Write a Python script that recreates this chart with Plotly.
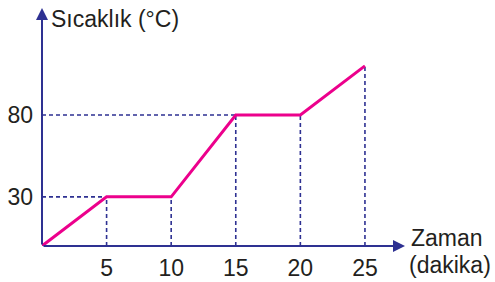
import plotly.graph_objects as go

# Data
time_min = [0, 5, 10, 15, 20, 25]
temp_c = [0, 30, 30, 80, 80, 110]
x_tick_vals = [5, 10, 15, 20, 25]
x_tick_text = ["5", "10", "15", "20", "25"]
y_tick_vals = [30, 80]
y_tick_text = ["30", "80"]

AXIS_COLOR = "#2e3192"
LINE_COLOR = "#ec008c"
TEXT_COLOR = "#231f20"
FONT = "Liberation Sans, Arial, sans-serif"

X_MAX = 28.1
Y_MAX = 145.3

# dashed guide lines built from the data points
gx, gy = [], []
for x, y in zip(time_min[1:], temp_c[1:]):
    gx += [x, x, None]
    gy += [0, y, None]
for yv in y_tick_vals:
    xs = [x for x, y in zip(time_min, temp_c) if y == yv]
    gx += [0, min(xs), None]
    gy += [yv, yv, None]

fig = go.Figure()
fig.add_trace(go.Scatter(x=gx, y=gy, mode="lines",
                         line=dict(color=AXIS_COLOR, width=1.6, dash="4px,3px"),
                         hoverinfo="skip", showlegend=False, cliponaxis=False))
fig.add_trace(go.Scatter(x=time_min, y=temp_c, mode="lines",
                         line=dict(color=LINE_COLOR, width=3),
                         showlegend=False, cliponaxis=False))

# axes with arrowheads
fig.add_annotation(x=X_MAX, y=0, ax=0, ay=0, axref="x", ayref="y", xref="x", yref="y",
                   text="", showarrow=True, arrowhead=2, arrowsize=1.2, arrowwidth=2,
                   arrowcolor=AXIS_COLOR)
fig.add_annotation(x=0, y=Y_MAX, ax=0, ay=0, axref="x", ayref="y", xref="x", yref="y",
                   text="", showarrow=True, arrowhead=2, arrowsize=1.2, arrowwidth=2,
                   arrowcolor=AXIS_COLOR)

# axis titles
fig.add_annotation(xref="paper", yref="paper", x=0.02, y=0.955, xanchor="left", yanchor="middle",
                   text="Sıcaklık (°C)", showarrow=False,
                   font=dict(family=FONT, size=23, color=TEXT_COLOR))
fig.add_annotation(xref="paper", yref="paper", x=1.01, y=0.035, xanchor="left", yanchor="middle",
                   text="Zaman", showarrow=False,
                   font=dict(family=FONT, size=23, color=TEXT_COLOR))
fig.add_annotation(xref="paper", yref="paper", x=1.005, y=-0.08, xanchor="left", yanchor="middle",
                   text="(dakika)", showarrow=False,
                   font=dict(family=FONT, size=23, color=TEXT_COLOR))

fig.update_layout(
    width=495, height=282,
    margin=dict(l=42, r=90, t=8, b=36, autoexpand=False),
    paper_bgcolor="white", plot_bgcolor="white",
    font=dict(family=FONT, size=23, color=TEXT_COLOR),
    xaxis=dict(range=[0, X_MAX], showgrid=False, zeroline=False, showline=False,
               tickmode="array", tickvals=x_tick_vals, ticktext=x_tick_text,
               ticks="", ticklabelstandoff=6, fixedrange=True, automargin=False),
    yaxis=dict(range=[0, Y_MAX], showgrid=False, zeroline=False, showline=False,
               tickmode="array", tickvals=y_tick_vals, ticktext=y_tick_text,
               ticks="", ticklabelstandoff=8, fixedrange=True, automargin=False),
)

fig.write_html("out.html", config={"displayModeBar": False},
               post_script="document.body.style.margin='0';")
